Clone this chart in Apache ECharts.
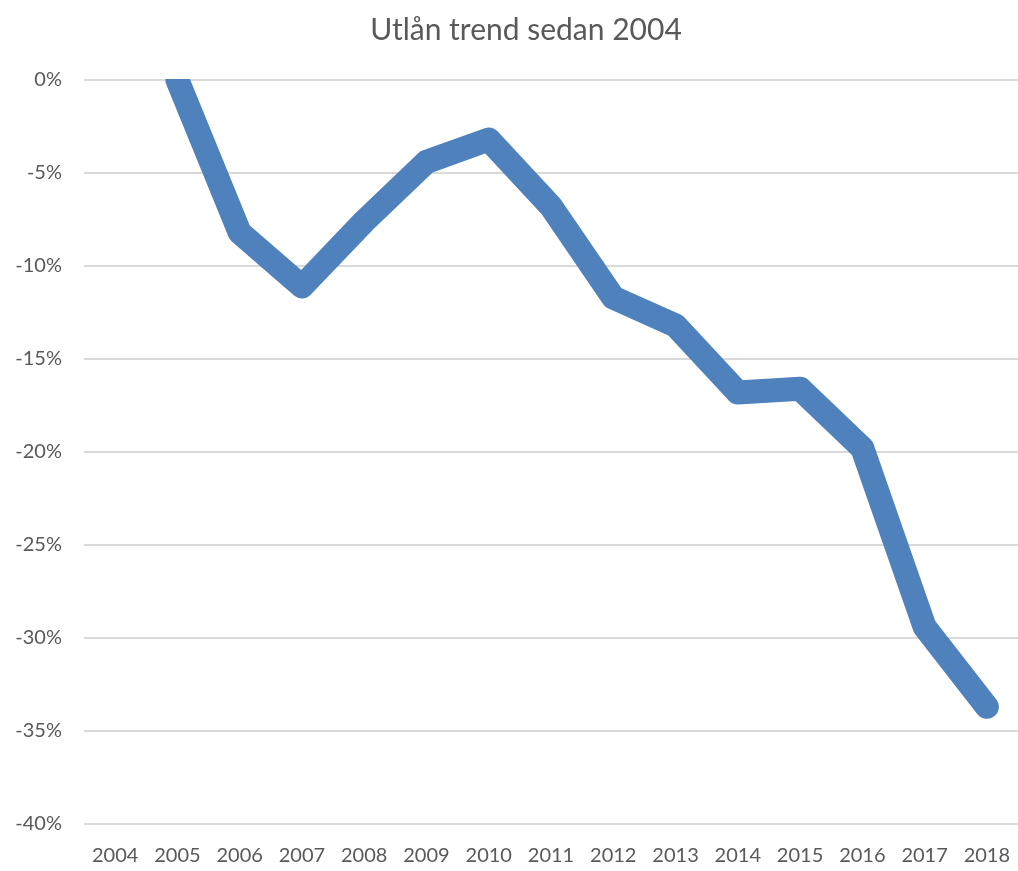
<!DOCTYPE html>
<html>
<head>
<meta charset="utf-8">
<script src="https://cdn.jsdelivr.net/npm/echarts@6/dist/echarts.min.js"></script>
<style>
  html, body { margin: 0; padding: 0; background: #fff; }
  #main { width: 1018px; height: 871px; }
</style>
</head>
<body>
<div id="main"></div>
<script>
  // år och utlån jämfört med 2004 (procent)
  const years = ['2004', '2005', '2006', '2007', '2008', '2009', '2010', '2011',
    '2012', '2013', '2014', '2015', '2016', '2017', '2018']
  const trend = [null, 0, -8.2, -11.1, -7.6, -4.4, -3.2, -6.8,
    -11.7, -13.2, -16.8, -16.6, -19.8, -29.4, -33.7]

  const chart = echarts.init(document.getElementById('main'))
  const font = 'Lato'
  const option = {
    animation: false,
    title: {
      text: 'Utlån trend sedan 2004',
      left: 521,
      top: 10,
      textAlign: 'center',
      z: 10,
      textStyle: {
        fontFamily: font,
        fontSize: 30,
        fontWeight: 'normal',
        color: '#595959'
      }
    },
    // plot area is cut at the top like in Excel
    graphic: [
      {
        type: 'rect',
        z: 5,
        silent: true,
        shape: { x: 84, y: 0, width: 934, height: 79 },
        style: { fill: '#fff' }
      }
    ],
    grid: {
      top: 80,
      bottom: 47,
      left: 84,
      right: -2
    },
    xAxis: {
      type: 'category',
      data: years,
      boundaryGap: true,
      axisLine: { show: false },
      axisTick: { show: false },
      axisLabel: {
        margin: 22,
        fontFamily: font,
        fontSize: 20,
        color: '#595959'
      }
    },
    yAxis: {
      type: 'value',
      min: -40,
      max: 0,
      interval: 5,
      axisLine: { show: false },
      axisTick: { show: false },
      axisLabel: {
        margin: 22,
        fontFamily: font,
        fontSize: 20,
        color: '#595959',
        formatter: v => v + '%'
      },
      splitLine: {
        lineStyle: { color: '#d9d9d9', width: 2 }
      }
    },
    series: [
      {
        name: 'Utlån',
        type: 'line',
        data: trend,
        showSymbol: false,
        clip: true,
        lineStyle: {
          color: '#4f81bd',
          width: 24,
          cap: 'round',
          join: 'round'
        }
      }
    ]
  }
  chart.setOption(option)
</script>
</body>
</html>
